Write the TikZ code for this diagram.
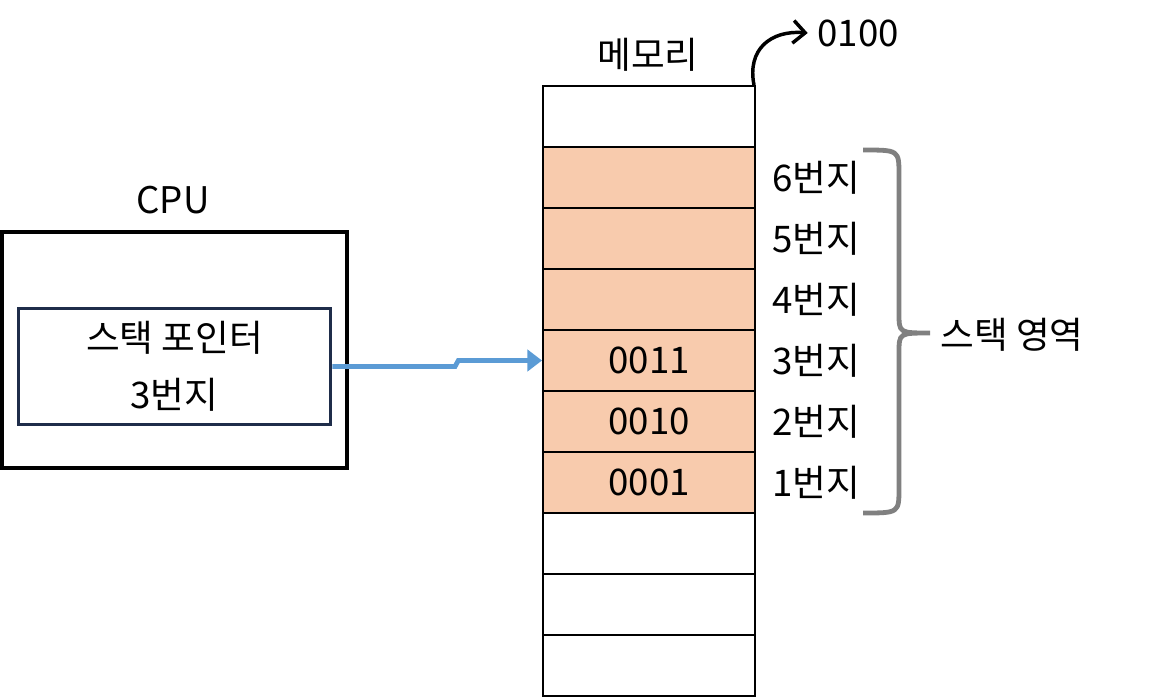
\documentclass[tikz,border=0pt]{standalone}
\usepackage{fontspec}
\setmainfont{Noto Sans CJK KR}
\usetikzlibrary{arrows.meta,positioning}
\definecolor{peach}{HTML}{F8CBAD}
\definecolor{navy}{HTML}{1F2D4A}
\definecolor{sblue}{HTML}{5B9BD5}
\definecolor{bgray}{HTML}{808080}
\begin{document}
\begin{tikzpicture}[x=0.75pt,y=-0.75pt,
  txt/.style={font=\fontsize{27.5}{43}\selectfont, inner sep=0pt},
  cell/.style={draw=black, line width=1.5pt, minimum width=159pt, minimum height=45.75pt, inner sep=0pt, font=\fontsize{27.5}{30}\selectfont, anchor=center},
  stackcell/.style={cell, fill=peach}]
\useasboundingbox (0,0) rectangle (1161,697);
% CPU
\node[draw=black, line width=2.8pt, minimum width=258.5pt, minimum height=177.5pt, inner sep=0pt] (cpu) at (174.5,350) {};
\node[txt] (cpulbl) at (173,200) {CPU};
\node[draw=navy, line width=2.2pt, minimum width=234.5pt, minimum height=87.5pt, inner sep=0pt, txt, align=center] (sp) at (174.5,366.5) {스택 포인터\\3번지};
% memory
\foreach \k/\t/\s in {0//cell,1//stackcell,2//stackcell,3//stackcell,4/0011/stackcell,5/0010/stackcell,6/0001/stackcell,7//cell,8//cell,9//cell}{
  \node[\s] (r\k) at (649,{116.5+61*\k}) {\t};
}
\node[txt] (memlbl) at (648,55) {메모리};
\node[txt] (addr) at (858,33) {0100};
\draw[line width=2.6pt, -{Straight Barb[length=9pt,width=17pt,line width=2.6pt]}] ([xshift=-1.5pt]r0.north east) .. controls (747,50) and (770,30) .. ([xshift=-7pt]addr.west);
% address labels
\foreach \k/\t in {1/6,2/5,3/4,4/3,5/2,6/1}{
  \node[txt] (a\k) at (816,{116.5+61*\k}) {\t 번지};
}
% brace
\draw[bgray, line width=3.6pt, line join=round]
  (863,150) .. controls (899,150) .. (899,175) -- (899,313) .. controls (899,333) .. (930,333)
  (863,513) .. controls (899,513) .. (899,488) -- (899,353) .. controls (899,333) .. (930,333);
\node[txt] (stk) at (1012,335) {스택 영역};
% pointer arrow
\coordinate (bend) at (455,366.5);
\draw[sblue, line width=3.6pt, -{Triangle[length=11pt,width=16pt]}] (sp.east) -- (bend) -- ([xshift=2.5pt]bend |- r4.west) -- (r4.west);
\end{tikzpicture}
\end{document}
